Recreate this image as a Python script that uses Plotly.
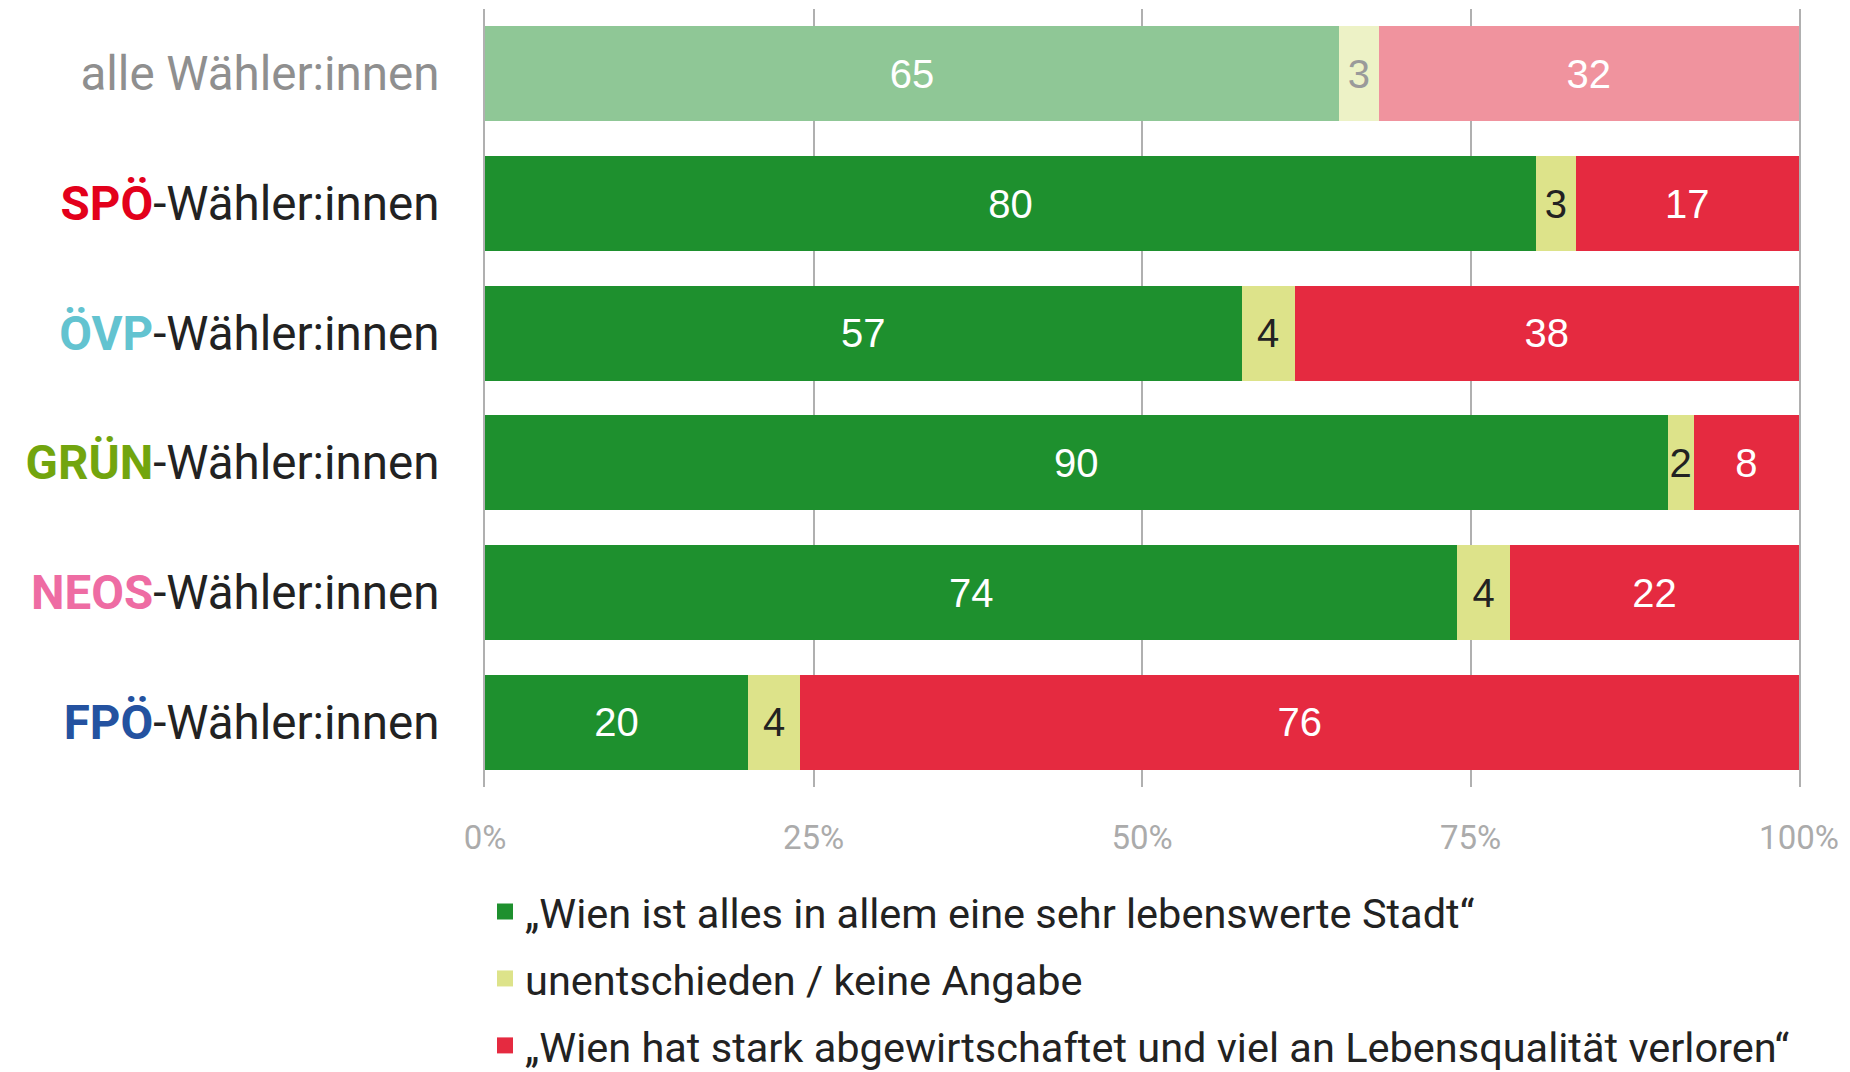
import plotly.graph_objects as go

# ---- data ----
groups = ["alle", "SPÖ", "ÖVP", "GRÜN", "NEOS", "FPÖ"]
party_colors = ["#8f8f8f", "#e3001b", "#63c3d0", "#72a50e", "#ee6ca3", "#2452a0"]
positive = [65, 80, 57, 90, 74, 20]
undecided = [3, 3, 4, 2, 4, 4]
negative = [32, 17, 38, 8, 22, 76]
tick_vals = [0, 25, 50, 75, 100]
tick_text = ["0%", "25%", "50%", "75%", "100%"]
series_names = [
    "„Wien ist alles in allem eine sehr lebenswerte Stadt“",
    "unentschieden / keine Angabe",
    "„Wien hat stark abgewirtschaftet und viel an Lebensqualität verloren“",
]

# styles
GREEN, GREEN_L = "#1e902e", "#8fc796"
YEL, YEL_L = "#dde38a", "#edf2c6"
RED, RED_L = "#e52a40", "#f0939e"
DARK = "#222222"
GRID = "#b0b0b0"

def row_labels():
    out = []
    for g, c in zip(groups, party_colors):
        if g == "alle":
            out.append(f"<span style='color:{c}'>alle Wähler:innen</span>")
        else:
            out.append(f"<b><span style='color:{c}'>{g}</span></b><span style='color:{DARK}'>-Wähler:innen</span>")
    return out

cats = row_labels()

def colors(main, light):
    return [light if g == "alle" else main for g in groups]

fig = go.Figure()
series = [
    (positive, colors(GREEN, GREEN_L), ["white"] * len(groups)),
    (undecided, colors(YEL, YEL_L), ["#9a9a9a" if g == "alle" else DARK for g in groups]),
    (negative, colors(RED, RED_L), ["white"] * len(groups)),
]
for vals, cols, tcols in series:
    fig.add_trace(go.Bar(
        y=cats, x=vals, orientation="h",
        marker=dict(color=cols, line=dict(width=0)),
        text=[str(v) for v in vals], textposition="inside",
        insidetextanchor="middle", textangle=0, constraintext="none",
        textfont=dict(family="Liberation Sans, Arial", size=40, color=tcols),
        showlegend=False, hoverinfo="skip",
    ))

legend_colors = [GREEN, YEL, RED]
for i, (name, col) in enumerate(zip(series_names, legend_colors)):
    fig.add_trace(go.Scatter(
        x=[None], y=[None], mode="markers", name=name,
        marker=dict(symbol="square", size=16, color=col),
        legendgroup=f"g{i}", showlegend=True,
    ))

fig.update_layout(
    width=1850, height=1072,
    margin=dict(l=477, r=59, t=1, b=293, autoexpand=False),
    barmode="stack", barnorm="percent", bargap=0.265,
    plot_bgcolor="white", paper_bgcolor="white",
    font=dict(family="Roboto", color=DARK),
    legend=dict(
        x=0.0, xanchor="left", y=-0.117, yanchor="top",
        orientation="v", traceorder="grouped", tracegroupgap=10,
        font=dict(family="Roboto", size=41.5, color=DARK),
        itemwidth=30, bgcolor="rgba(0,0,0,0)",
    ),
)
fig.update_xaxes(
    range=[0, 100], tickvals=tick_vals, ticktext=tick_text,
    showgrid=True, gridcolor=GRID, gridwidth=2,
    zeroline=False, showline=False, ticks="",
    tickfont=dict(family="Roboto", size=33, color="#ababab"),
    ticklabelstandoff=28, automargin=False,
)
fig.update_yaxes(
    categoryorder="array", categoryarray=cats,
    range=[5.5, -0.5], showgrid=False, zeroline=False,
    showline=True, mirror=True, linecolor=GRID, linewidth=2,
    ticks="", tickfont=dict(family="Roboto", size=47.5), ticklabelstandoff=34,
    automargin=False,
)

fig.write_html("out.html")
